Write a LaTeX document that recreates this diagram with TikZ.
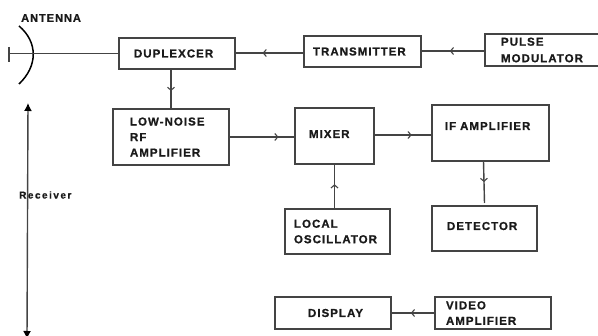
\documentclass[tikz,border=0pt]{standalone}
\usepackage{fontspec}
\setmainfont{Liberation Sans}
\newfontfamily\lblfont{Liberation Sans Bold}[LetterSpace=9,FakeBold=0.9,WordSpace=1.4]
\newfontfamily\recfont{Liberation Sans Bold}[LetterSpace=15,FakeBold=0.9]
\usetikzlibrary{arrows.meta,decorations.markings}
\definecolor{ink}{HTML}{1A1A1A}
\definecolor{wire}{HTML}{444444}
\tikzset{
  x=1pt,y=-1pt,
  blockbox/.style n args={3}{draw=wire,line width=1.4pt,text=ink,anchor=north west,
    minimum width=#1 pt,minimum height=#2 pt,inner ysep=0pt,inner xsep=#3 pt,
    text width=#1 pt-2*#3 pt,align=left,outer sep=0pt,
    font=\lblfont\fontsize{11.5}{15.5}\selectfont},
  flowline/.style={draw=wire,line width=1.4pt},
  chevron/.style={flowline,postaction={decorate},decoration={markings,
    mark=at position #1 with {\arrow[wire,line width=1.1pt]{Straight Barb[length=3pt,width=7pt]}}}},
  sidearrow/.style={draw=wire,line width=1.4pt,{Latex[length=8pt,width=8pt,black]}-{Latex[length=8pt,width=8pt,black]}},
  caption/.style={text=ink,inner sep=0pt,anchor=west},
}
\begin{document}
\begin{tikzpicture}
\useasboundingbox (0,0) rectangle (598,336);
\node[blockbox={116}{31}{15}] (dup) at (119,38) {DUPLEXCER};
\node[blockbox={117}{31}{9}] (tx) at (304,36) {TRANSMITTER};
\node[blockbox={116}{32}{16}] (pm) at (485,34) {\raisebox{1pt}{PULSE}\\MODULATOR};
\node[blockbox={116}{56}{17}] (lna) at (113,109) {LOW-NOISE\\RF\\AMPLIFIER};
\node[blockbox={79}{56}{14},text depth=4pt,text height=8pt] (mix) at (295,108) {MIXER};
\node[blockbox={117}{56}{13},text depth=14pt,text height=8pt] (ifa) at (432,105) {IF AMPLIFIER};
\node[blockbox={105}{45}{9}] (lo) at (285,209) {LOCAL\\OSCILLATOR};
\node[blockbox={105}{45}{15},text depth=5pt,text height=8pt] (det) at (432,206) {DETECTOR};
\node[blockbox={116}{32}{33}] (disp) at (275,297) {DISPLAY};
\node[blockbox={116}{32}{11}] (vid) at (435,297) {VIDEO\\AMPLIFIER};
% antenna
\coordinate (feed) at (9,53.5);
\coordinate (tickA) at (9,47);
\coordinate (tickB) at (9,62);
\coordinate (antop) at (19,26);
\coordinate (anbot) at (19,84);
\draw[black,line width=1.5pt] (antop) .. controls (38,42) and (38,66) .. (anbot);
\draw[flowline] (feed) -- (dup.west);
\draw[flowline] (tickA) -- (tickB);
\node[caption,font=\lblfont\fontsize{11}{12}\selectfont] (ant) at (21,18) {ANTENNA};
% connectors
\draw[chevron=0.6] ([yshift=-1.5pt]tx.west) -- ([yshift=0.5pt]dup.east);
\draw[chevron=0.55] ([yshift=-1pt]pm.west) -- ([yshift=0.5pt]tx.east);
\draw[chevron=0.55] (dup.south -| lna.north) -- (lna.north);
\draw[chevron=0.75] (lna.east) -- (mix.west |- lna.east);
\draw[chevron=0.65] ([yshift=1pt]mix.east) -- ([yshift=-2pt]ifa.west);
\draw[chevron=0.55] (mix.south |- lo.north) -- (mix.south);
\draw[chevron=0.5] ([xshift=-7pt]ifa.south) -- ([yshift=3pt]det.north);
\draw[chevron=0.55] (vid.west) -- (disp.east);
% receiver span
\coordinate (rxtop) at (28,103);
\coordinate (rxbot) at (27,339);
\draw[sidearrow] (rxtop) -- (rxbot);
\node[caption,font=\recfont\fontsize{10}{11}\selectfont] (rx) at (19,195) {Receiver};
\end{tikzpicture}
\end{document}
